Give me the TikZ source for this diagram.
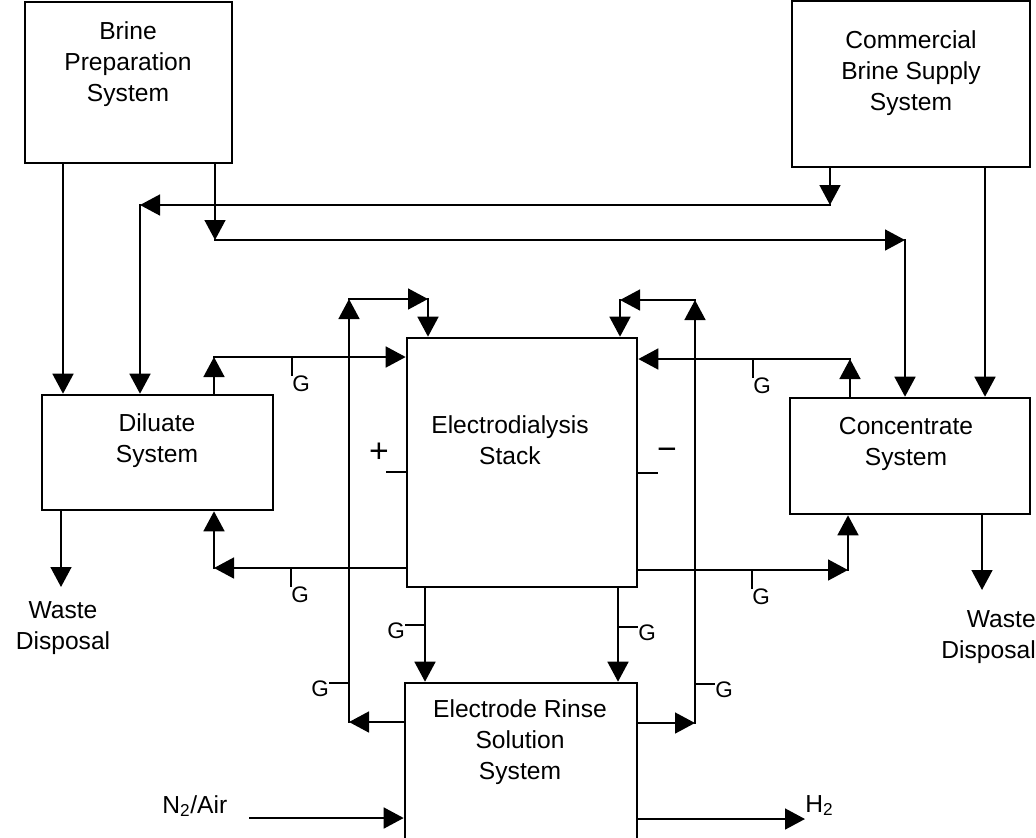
\documentclass[tikz,border=0pt]{standalone}
\usepackage{fontspec}
\setmainfont{Liberation Sans}
\usetikzlibrary{arrows.meta}

\begin{document}
\begin{tikzpicture}[
x=0.025cm, y=-0.025cm,
box/.style={draw, line width=1.8pt, inner sep=0pt},
boxtext/.style={align=center, inner sep=0pt, font=\fontsize{17.5}{22}\selectfont},
flow/.style={line width=1.6pt, line cap=rect, -{Triangle[length=0.5cm,width=0.52cm]}},
tick/.style={line width=1.3pt},
gate/.style={inner sep=0pt, font=\fontsize{16}{16}\selectfont},
sign/.style={inner sep=0pt, font=\fontsize{24}{24}\selectfont}
]
\useasboundingbox (0,0) rectangle (1036,837);

% boxes
\node[box, minimum width=5.175cm, minimum height=4.025cm] (prep) at (128.5,82.5) {};
\node[box, minimum width=5.95cm, minimum height=4.15cm] (comm) at (911,84) {};
\node[box, minimum width=5.775cm, minimum height=2.875cm] (dil) at (157.5,452.5) {};
\node[box, minimum width=5.75cm, minimum height=6.225cm] (stack) at (522,462.5) {};
\node[box, minimum width=6cm, minimum height=2.9cm] (conc) at (910,456) {};
\node[box, minimum width=5.8cm, minimum height=4.05cm] (rinse) at (521,764) {};

\node[boxtext] (prep-txt) at (128,64) {Brine\\Preparation\\System};
\node[boxtext] (comm-txt) at (911,73) {Commercial\\Brine Supply\\System};
\node[boxtext] (dil-txt) at (157,441) {Diluate\\System};
\node[boxtext] (stack-txt) at (510,440) {Electrodialysis\\Stack};
\node[boxtext] (conc-txt) at (906,444) {Concentrate\\System};
\node[boxtext] (rinse-txt) at (520,742) {Electrode Rinse\\Solution\\System};

% supply lines
\coordinate (prep-tee) at (215,240);
\coordinate (conc-tee) at (905,240);
\coordinate (comm-tee) at (830,205);
\coordinate (dil-tee) at (140,205);

\draw[flow] (63,0 |- prep.south) -- (63,0 |- dil.north);
\draw[flow] (215,0 |- prep.south) -- (prep-tee);
\draw[flow] (prep-tee) -- (conc-tee);
\draw[flow] (conc-tee) -- (905,0 |- conc.north);

\draw[flow] (830,0 |- comm.south) -- (comm-tee);
\draw[flow] (comm-tee) -- (dil-tee);
\draw[flow] (dil-tee) -- (140,0 |- dil.north);
\draw[flow] (985,0 |- comm.south) -- (985,0 |- conc.north);

% diluate and concentrate loops
\coordinate (dil-up) at (214,357);
\coordinate (dil-back) at (214,568);
\coordinate (conc-up) at (850,359);
\coordinate (conc-back) at (848,570);

\draw[flow] (214,0 |- dil.north) -- (dil-up);
\draw[flow] (dil-up) -- (stack.west |- dil-up);
\draw[flow] (stack.west |- dil-back) -- (dil-back);
\draw[flow] (dil-back) -- (214,0 |- dil.south);

\draw[flow] (850,0 |- conc.north) -- (conc-up);
\draw[flow] (conc-up) -- (stack.east |- conc-up);
\draw[flow] (stack.east |- conc-back) -- (conc-back);
\draw[flow] (conc-back) -- (848,0 |- conc.south);

% electrode rinse loops
\coordinate (rinse-l) at (349,722);
\coordinate (top-l) at (349,299);
\coordinate (feed-l) at (428,299);
\coordinate (rinse-r) at (695,723);
\coordinate (top-r) at (695,300);
\coordinate (feed-r) at (620,300);

\draw[flow] (425,0 |- stack.south) -- (425,0 |- rinse.north);
\draw[flow] (618,0 |- stack.south) -- (618,0 |- rinse.north);

\draw[flow] (rinse.west |- rinse-l) -- (rinse-l);
\draw[flow] (rinse-l) -- (top-l);
\draw[flow] (top-l) -- (feed-l);
\draw[flow] (feed-l) -- (428,0 |- stack.north);

\draw[flow] (rinse.east |- rinse-r) -- (rinse-r);
\draw[flow] (rinse-r) -- (top-r);
\draw[flow] (top-r) -- (feed-r);
\draw[flow] (feed-r) -- (620,0 |- stack.north);

% gas vents
\foreach \x/\y [count=\i] in {292/357, 753/359, 291/568, 752/570} {
  \draw[tick] (\x,\y) -- (\x,\y+19);
  \node[gate] (gh\i) at (\x+9,\y+27) {G};
}
\foreach \x/\y/\d [count=\i] in {425/625/-1, 349/683/-1, 618/627/1, 695/684/1} {
  \draw[tick] (\x,\y) -- (\x+20*\d,\y);
  \node[gate] (gv\i) at (\x+29*\d,\y+6) {G};
}

% electrodes
\node[sign] (plus) at (379,453) {+};
\node[sign] (minus) at (667,454) {−};
\draw[tick] (stack.west |- 0,472) -- (386,472);
\draw[tick] (stack.east |- 0,473) -- (658,473);

% waste, gas in and out
\coordinate (waste-l-end) at (61,587);
\coordinate (waste-r-end) at (982,590);
\node[boxtext] (waste-l) at (63,628) {Waste\\Disposal};
\node[boxtext, align=right, anchor=east] (waste-r) at (1036,637) {Waste\\Disposal};
\draw[flow] (61,0 |- dil.south) -- (waste-l-end);
\draw[flow] (982,0 |- conc.south) -- (waste-r-end);

\coordinate (n2-in) at (250,818);
\node[boxtext, anchor=base west] (n2) at (162,813) {N\textsubscript{2}/Air};
\draw[flow] (n2-in) -- (rinse.west |- n2-in);
\node[boxtext, anchor=base west] (h2) at (805,812) {H\textsubscript{2}};
\draw[flow] (rinse.east |- 0,819) -- (h2.west |- 0,819);

\end{tikzpicture}
\end{document}
